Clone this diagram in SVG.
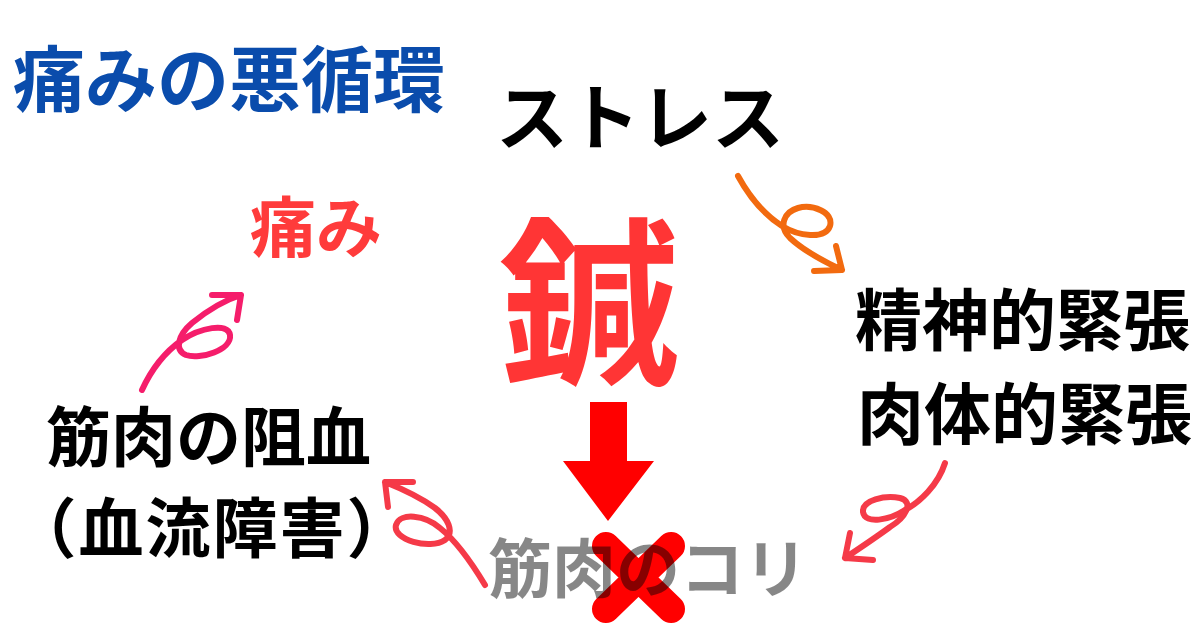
<svg xmlns="http://www.w3.org/2000/svg" width="1200" height="628" viewBox="0 0 1200 628">
<style>
.t{font-family:"Noto Sans CJK JP","Noto Sans CJK SC",sans-serif;font-weight:700;}
.k{fill:#000;}
.h{font-feature-settings:"halt" 1;letter-spacing:2px;}
.sk{fill:none;stroke-width:6;stroke-linecap:round;stroke-linejoin:round;}
</style>
<rect width="1200" height="628" fill="#fff"/>
<g id="title"><text class="t" x="13" y="106" font-size="72" fill="#0a4cac">痛みの悪循環</text></g>
<g id="stress"><text class="t k" x="640" y="144" font-size="72" text-anchor="middle">ストレス</text></g>
<g id="pain"><text class="t" x="250" y="252" font-size="66" fill="#ff3b3b">痛み</text></g>
<g id="shin"><text class="t" x="589" y="370" font-size="180" fill="#ff3535" text-anchor="middle">鍼</text></g>
<g id="tension"><text class="t k" x="855" y="345" font-size="67">精神的緊張</text><text class="t k" x="857" y="439" font-size="67">肉体的緊張</text></g>
<g id="ischemia"><text class="t k" x="46" y="461" font-size="65">筋肉の阻血</text><text class="t k h" x="44" y="552" font-size="65">（血流障害）</text></g>
<g id="block">
<path d="M590,402 H627 V461 H654 L608,521 L563,461 H590 Z" fill="#ff0000"/>
<path d="M606,546 L671,609 M671,546 L606,609" stroke="#ff0000" stroke-width="28" stroke-linecap="round" fill="none"/>
</g>
<g id="stiffness"><text class="t" x="488" y="592" font-size="64" fill="#000" fill-opacity="0.47">筋肉のコリ</text></g>
<g id="connectors">
<path class="sk" stroke="#f26a0f" d="M738,176 C750,198 765,215 782,226 C798,236 825,240 830,226 C834,212 812,204 798,208 C784,212 778,226 790,238 C805,252 825,262 842,270 M836,246 L842,270 L814,271"/>
<path class="sk" stroke="#f51d6b" d="M142,390 C152,368 165,352 182,340 C200,328 228,322 230,335 C232,350 200,360 186,355 C174,350 178,335 192,323 C208,310 225,300 241,295 M212,295 L241,295 L237,320"/>
<path class="sk" stroke="#f53a48" d="M485,585 C470,560 455,540 440,528 C425,515 400,512 396,525 C392,540 430,550 445,540 C455,532 448,518 435,508 C420,497 400,488 385,482 M413,482 L385,482 L388,507"/>
<path class="sk" stroke="#f53a48" d="M945,463 C938,485 920,502 905,510 C890,520 865,525 863,512 C862,500 885,495 900,498 C915,502 905,518 890,527 C875,538 860,548 845,558 M850,533 L845,558 L873,560"/>
</g>
</svg>
